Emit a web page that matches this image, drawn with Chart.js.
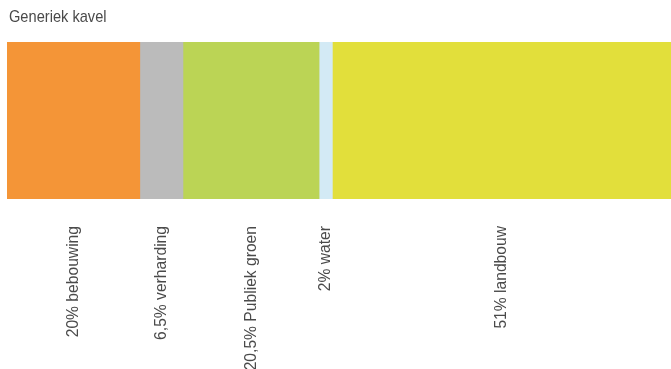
<!DOCTYPE html>
<html>
<head>
<meta charset="utf-8">
<script src="https://cdn.jsdelivr.net/npm/chart.js@4"></script>
<style>
  html, body { margin: 0; padding: 0; background: #fff; }
  #wrap { width: 671px; height: 369px; position: relative; }
</style>
</head>
<body>
<div id="wrap"><canvas id="kavelChart"></canvas></div>
<script>
const titleText = 'Generiek kavel';
const categories = ['Generiek kavel'];
const segmentLabels = ['20% bebouwing', '6,5% verharding', '20,5% Publiek groen', '2% water', '51% landbouw'];
const segmentValues = [20, 6.5, 20.5, 2, 51];
const segmentColors = ['#F49537', '#BBBBBB', '#BBD455', '#D3EAF5', '#E2DF3B'];

const fontFamily = "'Liberation Sans', Arial, sans-serif";

// title and rotated labels, drawn a bit condensed like the original
const segmentLabelPlugin = {
    id: 'segmentLabels',
    afterDatasetsDraw(chart) {
        const ctx = chart.ctx;
        ctx.save();
        ctx.fillStyle = '#4a4a4a';
        ctx.font = '17px ' + fontFamily;
        ctx.textBaseline = 'middle';
        ctx.save();
        ctx.translate(9, 17);
        ctx.scale(0.86, 1);
        ctx.textAlign = 'left';
        ctx.fillText(titleText, 0, 0);
        ctx.restore();

        chart.data.datasets.forEach((ds, i) => {
            const el = chart.getDatasetMeta(i).data[0];
            const cx = (el.x + el.base) / 2;
            ctx.save();
            ctx.translate(cx, chart.chartArea.bottom + 27);
            ctx.rotate(-Math.PI / 2);
            ctx.scale(0.92, 1);
            ctx.textAlign = 'right';
            ctx.fillText(ds.label, 0, 0);
            ctx.restore();
        });
        ctx.restore();
    }
};

const ctx = document.getElementById('kavelChart').getContext('2d');
new Chart(ctx, {
    type: 'bar',
    data: {
        labels: categories,
        datasets: segmentLabels.map((label, i) => ({
            label: label,
            data: [segmentValues[i]],
            backgroundColor: segmentColors[i],
            borderWidth: 0,
            barPercentage: 1,
            categoryPercentage: 1
        }))
    },
    options: {
        indexAxis: 'y',
        responsive: true,
        maintainAspectRatio: false,
        animation: false,
        layout: {
            padding: { left: 7, right: 0, top: 42, bottom: 170 }
        },
        scales: {
            x: { stacked: true, min: 0, max: 100, display: false },
            y: { stacked: true, display: false }
        },
        plugins: {
            legend: { display: false },
            tooltip: { enabled: false },
            title: { display: false }
        }
    },
    plugins: [segmentLabelPlugin]
});
</script>
</body>
</html>
